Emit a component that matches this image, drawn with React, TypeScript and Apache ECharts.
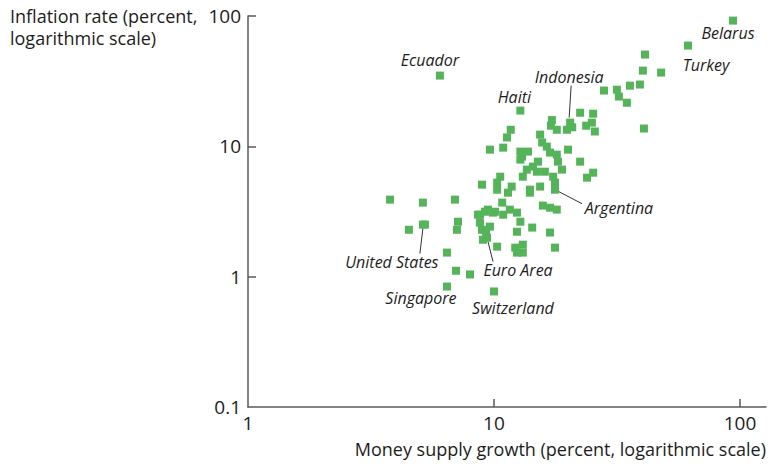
import React, { useEffect, useRef } from "react";
import * as echarts from "echarts";

// Money supply growth (x, %) and inflation rate (y, %) for unlabeled countries
const moneyGrowth = [
  41.1, 40.3, 47.8, 28.0, 31.6, 32.2, 34.7, 35.7, 39.2, 40.7, 22.4, 25.3, 23.7, 25.0, 25.7,
  19.8, 17.05, 18.0, 11.7, 11.3, 10.9, 9.63, 15.4, 15.7, 16.4, 16.9, 18.0, 18.2, 18.9, 20.0,
  12.8, 13.75, 12.8, 15.1, 14.4, 13.6, 13.1, 14.95, 16.1, 17.4, 17.7, 22.4, 25.3, 23.9, 10.6,
  10.3, 8.94, 11.8, 11.4, 14.0, 15.4, 10.3, 6.94, 15.8, 16.9, 18.0, 9.45, 10.1, 11.6, 8.77,
  12.4, 14.0, 10.8, 9.19, 9.91, 10.9, 8.77, 8.94, 9.63, 12.8, 12.4, 14.3, 16.9, 9.02, 10.3,
  12.2, 13.1, 13.1, 12.4, 17.7, 7.99, 3.78, 5.14, 4.51, 5.24, 7.14, 7.07, 6.44, 7.01, 8.61,
  13.0, 9.28, 17.2, 20.8
];
const inflationRate = [
  50.6, 38.1, 36.8, 26.8, 27.2, 24.1, 21.6, 29.2, 29.8, 13.7, 18.1, 17.8, 14.4, 15.2, 13.0,
  13.4, 14.4, 13.4, 13.4, 11.7, 9.77, 9.43, 12.3, 10.7, 9.95, 8.95, 8.64, 7.63, 6.63, 9.43,
  9.11, 9.11, 7.91, 7.63, 6.99, 6.63, 5.85, 6.39, 6.39, 5.85, 5.27, 7.63, 6.28, 5.75, 5.85,
  5.27, 5.08, 4.91, 4.41, 4.65, 4.91, 4.65, 3.90, 3.51, 3.38, 3.27, 3.27, 3.15, 3.27, 2.99,
  3.10, 4.41, 3.70, 3.15, 3.10, 2.99, 2.60, 2.29, 2.42, 2.64, 2.21, 2.38, 2.18, 1.92, 1.70,
  1.67, 1.76, 1.53, 1.53, 1.67, 1.04, 3.90, 3.70, 2.29, 2.51, 2.64, 2.29, 1.53, 1.11, 2.99,
  8.34, 2.21, 15.9, 14.0
];

// Labeled countries
const labelNames = [
  "Belarus", "Turkey", "Ecuador", "Haiti", "Indonesia", "Argentina",
  "United States", "Euro Area", "Singapore", "Switzerland"
];
const labelMoney = [93.7, 61.5, 6.03, 12.8, 20.4, 17.7, 5.14, 9.37, 6.44, 10.0];
const labelInflation = [92.2, 59.3, 34.9, 18.8, 15.2, 4.65, 2.51, 1.99, 0.84, 0.77];

const xTicks = [1, 10, 100];
const yTicks = [0.1, 1, 10, 100];

// label placement (pixel offsets from the point), and optional leader lines
const labelPlacement: Record<string, { dx: number; dy: number; line?: number[] }> = {
  Belarus: { dx: -5, dy: 12 },
  Turkey: { dx: 18, dy: 19 },
  Ecuador: { dx: -10, dy: -16 },
  Haiti: { dx: -6, dy: -14 },
  Indonesia: { dx: -1, dy: -46, line: [1, -37, -1, -5] },
  Argentina: { dx: 64, dy: 18, line: [2, 1, 27, 14] },
  "United States": { dx: -31, dy: 37, line: [0, 4, -3, 29] },
  "Euro Area": { dx: 31, dy: 32, line: [1, 4, 6, 24] },
  Singapore: { dx: -26, dy: 11 },
  Switzerland: { dx: 19, dy: 17 },
};

const GREEN = "#55b45a";
const TEXT = "#1e1c1d";
const AXIS = "#5a5a5a";
const FONT = "'Open Sans', Lato, sans-serif";

export default function App() {
  const ref = useRef<HTMLDivElement>(null);
  useEffect(() => {
    if (!ref.current) return;
    const chart = echarts.init(ref.current, undefined, { renderer: "svg" });
    const points: number[][] = moneyGrowth.map((m, i) => [m, inflationRate[i]]);
    labelMoney.forEach((m, i) => points.push([m, labelInflation[i]]));

    const axisLabelStyle = { color: TEXT, fontSize: 19, fontFamily: FONT };
    chart.setOption({
      animation: false,
      grid: { left: 248, top: 16, right: 5, bottom: 58, outerBoundsMode: "none" },
      xAxis: {
        type: "log",
        logBase: 10,
        min: 1,
        max: 127.6,
        axisLine: { show: true, lineStyle: { color: AXIS, width: 1.5 } },
        axisTick: { show: true, inside: true, length: 8, customValues: [10, 100], lineStyle: { color: AXIS, width: 1.5 } },
        axisLabel: { ...axisLabelStyle, margin: 6, customValues: xTicks },
        splitLine: { show: false },
      },
      yAxis: {
        type: "log",
        logBase: 10,
        min: 0.1,
        max: 100,
        axisLine: { show: true, lineStyle: { color: AXIS, width: 1.5 } },
        axisTick: { show: true, inside: true, length: 8, customValues: [1, 10, 100], lineStyle: { color: AXIS, width: 1.5 } },
        axisLabel: { ...axisLabelStyle, margin: 7, customValues: yTicks },
        splitLine: { show: false },
      },
      series: [
        {
          type: "scatter",
          symbol: "rect",
          symbolSize: 8,
          itemStyle: { color: GREEN, opacity: 1 },
          data: points,
        },
      ],
    });

    const elements: any[] = [
      {
        type: "text",
        left: 10,
        top: 5,
        style: {
          text: "Inflation rate (percent,\nlogarithmic scale)",
          fill: TEXT,
          font: `18px ${FONT}`,
          lineHeight: 22,
        },
      },
      {
        type: "text",
        right: 5,
        top: 440,
        style: {
          text: "Money supply growth (percent, logarithmic scale)",
          fill: TEXT,
          font: `18px ${FONT}`,
        },
      },
    ];
    labelNames.forEach((name, i) => {
      const p = chart.convertToPixel({ gridIndex: 0 }, [labelMoney[i], labelInflation[i]]) as number[];
      const pl = labelPlacement[name];
      elements.push({
        type: "text",
        x: p[0] + pl.dx,
        y: p[1] + pl.dy,
        style: {
          text: name,
          fill: TEXT,
          font: `italic 16px ${FONT}`,
          align: "center",
          verticalAlign: "middle",
        },
      });
      if (pl.line) {
        elements.push({
          type: "line",
          shape: {
            x1: p[0] + pl.line[0],
            y1: p[1] + pl.line[1],
            x2: p[0] + pl.line[2],
            y2: p[1] + pl.line[3],
          },
          style: { stroke: "#333", lineWidth: 1 },
        });
      }
    });
    chart.setOption({ graphic: { elements } });

    return () => chart.dispose();
  }, []);
  return (
    <div
      ref={ref}
      style={{ position: "fixed", left: 0, top: 0, width: 771, height: 465, background: "#fff" }}
    />
  );
}
